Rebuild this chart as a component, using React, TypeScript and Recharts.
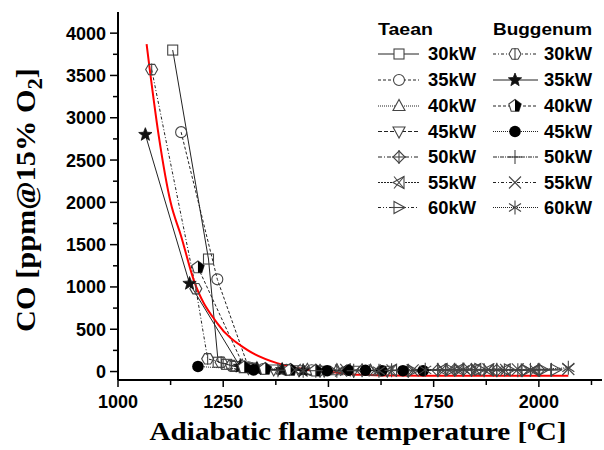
import React from 'react';
import { ComposedChart, Line, XAxis, YAxis } from 'recharts';

type P = { x: number; y: number };
const pts = (a: number[][]): P[] => a.map(([x, y]) => ({ x, y }));

// Taean series (temperature °C, CO ppm)
const taean30 = [[1130, 3800], [1215, 1330], [1238, 110], [1258, 85], [1278, 60], [1300, 45]];
const taean35 = [[1150, 2830], [1236, 1090], [1310, 50], [1345, 30], [1400, 20], [1460, 15]];
const taean40 = [[1295, 70], [1330, 40], [1390, 25], [1450, 20], [1520, 15], [1600, 10]];
const taean45 = [[1310, 40], [1370, 25], [1430, 15], [1490, 10], [1560, 10], [1640, 10]];
const taean50 = [[1480, 10], [1580, 15], [1690, 10], [1760, 15], [1800, 20], [1840, 20], [1900, 15], [1960, 15], [2000, 20]];
const taean55 = [[1540, 20], [1650, 15], [1770, 25], [1810, 25], [1850, 25], [1880, 20], [1920, 20], [1990, 15]];
const taean60 = [[1700, 10], [1790, 20], [1860, 25], [1930, 20], [1970, 15], [2010, 20], [2040, 20]];
// Buggenum series
const bugg30 = [[1080, 3570], [1185, 980], [1213, 150], [1245, 110], [1270, 70], [1320, 40]];
const bugg35 = [[1065, 2800], [1170, 1040], [1290, 60], [1330, 30], [1390, 20], [1440, 10]];
const bugg40 = [[1190, 1230], [1300, 50], [1350, 30], [1410, 20], [1470, 10]];
const bugg45 = [[1190, 60], [1322, 20], [1497, 10], [1547, 15], [1588, 15], [1627, 10], [1677, 10], [1725, 10]];
const bugg50 = [[1380, 15], [1470, 10], [1560, 10], [1650, 15], [1760, 20], [1820, 20], [1870, 15], [1950, 15], [2030, 20]];
const bugg55 = [[1420, 20], [1530, 10], [1610, 15], [1700, 15], [1790, 20], [1835, 25], [1880, 25], [1950, 25], [2070, 30]];
const bugg60 = [[1440, 10], [1520, 10], [1620, 10], [1730, 20], [1820, 25], [1900, 20], [1980, 20], [2070, 45]];
// Red fitted curve
const fitCurve = [[1068, 3870], [1097, 2780], [1125, 2000], [1150, 1600], [1180, 1080], [1236, 570], [1307, 256], [1378, 99], [1440, 30], [1497, 0], [1576, -39], [1650, -48], [1800, -50], [2070, -50]];

const xTicks = [1000, 1125, 1250, 1375, 1500, 1625, 1750, 1875, 2000, 2125];
const yTicks = [0, 250, 500, 750, 1000, 1250, 1500, 1750, 2000, 2250, 2500, 2750, 3000, 3250, 3500, 3750, 4000];
const powerLabels = ['30kW', '35kW', '40kW', '45kW', '50kW', '55kW', '60kW'];
const groupNames = ['Taean', 'Buggenum'];

type Kind = 'square' | 'circle' | 'triUp' | 'triDown' | 'diamondCross' | 'triLeftX' | 'triRight' |
  'hexLine' | 'star' | 'pentHalf' | 'dot' | 'plus' | 'cross' | 'asterisk';

interface Series { key: string; group: number; label: string; data: P[]; kind: Kind; dash: string }

const series: Series[] = [
  { key: 't30', group: 0, label: powerLabels[0], data: pts(taean30), kind: 'square', dash: '' },
  { key: 't35', group: 0, label: powerLabels[1], data: pts(taean35), kind: 'circle', dash: '3 2' },
  { key: 't40', group: 0, label: powerLabels[2], data: pts(taean40), kind: 'triUp', dash: '1 1' },
  { key: 't45', group: 0, label: powerLabels[3], data: pts(taean45), kind: 'triDown', dash: '4 2' },
  { key: 't50', group: 0, label: powerLabels[4], data: pts(taean50), kind: 'diamondCross', dash: '4 2 1 2' },
  { key: 't55', group: 0, label: powerLabels[5], data: pts(taean55), kind: 'triLeftX', dash: '2 1' },
  { key: 't60', group: 0, label: powerLabels[6], data: pts(taean60), kind: 'triRight', dash: '3 2 1 2 1 2' },
  { key: 'b30', group: 1, label: powerLabels[0], data: pts(bugg30), kind: 'hexLine', dash: '3 2 1 2' },
  { key: 'b35', group: 1, label: powerLabels[1], data: pts(bugg35), kind: 'star', dash: '' },
  { key: 'b40', group: 1, label: powerLabels[2], data: pts(bugg40), kind: 'pentHalf', dash: '3 2' },
  { key: 'b45', group: 1, label: powerLabels[3], data: pts(bugg45), kind: 'dot', dash: '1 1' },
  { key: 'b50', group: 1, label: powerLabels[4], data: pts(bugg50), kind: 'plus', dash: '4 1 1 1' },
  { key: 'b55', group: 1, label: powerLabels[5], data: pts(bugg55), kind: 'cross', dash: '3 2 1 2' },
  { key: 'b60', group: 1, label: powerLabels[6], data: pts(bugg60), kind: 'asterisk', dash: '1 1' },
];

const MS = '#444';
const SANS = '"Liberation Sans", Arial, sans-serif';
const SERIF = '"Liberation Serif", "Times New Roman", serif';

const poly = (cx: number, cy: number, r: number, n: number, rot: number) =>
  Array.from({ length: n }, (_, i) => {
    const a = rot + (i * 2 * Math.PI) / n;
    return `${cx + r * Math.cos(a)},${cy + r * Math.sin(a)}`;
  }).join(' ');

function Marker({ kind, cx, cy, fill = 'none' }: { kind: Kind; cx: number; cy: number; fill?: string }) {
  const s = { stroke: MS, strokeWidth: 1.1, fill } as any;
  switch (kind) {
    case 'square':
      return <rect x={cx - 5} y={cy - 5} width={10} height={10} {...s} />;
    case 'circle':
      return <circle cx={cx} cy={cy} r={5.5} {...s} />;
    case 'triUp':
      return <polygon points={`${cx},${cy - 6.5} ${cx - 6},${cy + 4.5} ${cx + 6},${cy + 4.5}`} {...s} />;
    case 'triDown':
      return <polygon points={`${cx},${cy + 6.5} ${cx - 6},${cy - 4.5} ${cx + 6},${cy - 4.5}`} {...s} />;
    case 'diamondCross':
      return (
        <g {...s}>
          <polygon points={`${cx},${cy - 6} ${cx + 6},${cy} ${cx},${cy + 6} ${cx - 6},${cy}`} />
          <line x1={cx - 7} x2={cx + 7} y1={cy} y2={cy} />
          <line x1={cx} x2={cx} y1={cy - 7} y2={cy + 7} />
        </g>
      );
    case 'triLeftX':
      return (
        <g {...s}>
          <polygon points={`${cx - 6},${cy} ${cx + 5},${cy - 6} ${cx + 5},${cy + 6}`} />
          <line x1={cx - 5} x2={cx + 5} y1={cy - 6} y2={cy + 6} />
          <line x1={cx - 5} x2={cx + 5} y1={cy + 6} y2={cy - 6} />
        </g>
      );
    case 'triRight':
      return (
        <g {...s}>
          <polygon points={`${cx + 6},${cy} ${cx - 5},${cy - 6} ${cx - 5},${cy + 6}`} />
          <line x1={cx - 8} x2={cx + 6} y1={cy} y2={cy} />
        </g>
      );
    case 'hexLine':
      return (
        <g {...s}>
          <polygon points={poly(cx, cy, 6, 6, 0)} />
          <line x1={cx} x2={cx} y1={cy - 6} y2={cy + 6} />
        </g>
      );
    case 'star':
      return <polygon points={Array.from({ length: 10 }, (_, i) => {
        const r = i % 2 === 0 ? 7 : 3;
        const a = -Math.PI / 2 + (i * Math.PI) / 5;
        return `${cx + r * Math.cos(a)},${cy + r * Math.sin(a)}`;
      }).join(' ')} fill="#111" stroke="#111" strokeWidth={0.8} />;
    case 'pentHalf':
      return (
        <g>
          <polygon points={poly(cx, cy, 6.5, 5, -Math.PI / 2)} fill="#fff" stroke={MS} strokeWidth={1.1} />
          <polygon points={`${cx},${cy - 6.5} ${cx + 6.2},${cy - 2} ${cx + 3.8},${cy + 5.3} ${cx},${cy + 5.3}`} fill="#000" />
        </g>
      );
    case 'dot':
      return <circle cx={cx} cy={cy} r={5.8} fill="#000" />;
    case 'plus':
      return (
        <g {...s}>
          <line x1={cx - 7} x2={cx + 7} y1={cy} y2={cy} />
          <line x1={cx} x2={cx} y1={cy - 7} y2={cy + 7} />
        </g>
      );
    case 'cross':
      return (
        <g {...s}>
          <line x1={cx - 6} x2={cx + 6} y1={cy - 6} y2={cy + 6} />
          <line x1={cx - 6} x2={cx + 6} y1={cy + 6} y2={cy - 6} />
        </g>
      );
    case 'asterisk':
      return (
        <g {...s}>
          <line x1={cx} x2={cx} y1={cy - 7} y2={cy + 7} />
          <line x1={cx - 6} x2={cx + 6} y1={cy - 4} y2={cy + 4} />
          <line x1={cx - 6} x2={cx + 6} y1={cy + 4} y2={cy - 4} />
        </g>
      );
  }
  return null;
}

const XTick = (props: any) => {
  const { x, y, payload } = props;
  const v = payload.value as number;
  const major = v % 250 === 0;
  return (
    <g>
      <line x1={x} x2={x} y1={y} y2={y + (major ? 7 : 5)} stroke="#000" strokeWidth={1.5} />
      {major && (
        <text x={x} y={y + 28} textAnchor="middle" fontFamily={SANS} fontWeight="bold" fontSize={18} fill="#000">
          {v}
        </text>
      )}
    </g>
  );
};

const YTick = (props: any) => {
  const { x, y, payload } = props;
  const v = payload.value as number;
  const major = v % 500 === 0;
  return (
    <g>
      <line x1={x - (major ? 8 : 5)} x2={x} y1={y} y2={y} stroke="#000" strokeWidth={1.5} />
      {major && (
        <text x={x - 12} y={y} dy="0.36em" textAnchor="end" fontFamily={SANS} fontWeight="bold" fontSize={18} fill="#000">
          {v}
        </text>
      )}
    </g>
  );
};

const rowBaselines = [60, 86, 112, 137.5, 163, 188.5, 213.5];
const colDefs = [
  { lineX1: 378, lineX2: 419, markX: 399, textX: 428 },
  { lineX1: 493, lineX2: 538, markX: 515, textX: 544 },
];

export default function App() {
  return (
    <div style={{ position: 'absolute', left: 0, top: 0, width: 604, height: 450, background: '#fff' }}>
      <ComposedChart width={604} height={450} margin={{ top: 12, right: 2, bottom: 30, left: 0 }}>
        <XAxis
          dataKey="x"
          type="number"
          domain={[1000, 2150]}
          ticks={xTicks}
          interval={0}
          tickSize={0}
          tickMargin={0}
          tickLine={false}
          tick={<XTick />}
          height={40}
          axisLine={{ stroke: '#000', strokeWidth: 2 }}
          allowDataOverflow
        />
        <XAxis xAxisId="top" orientation="top" type="number" domain={[0, 1]} height={0} tick={false} tickLine={false}
          axisLine={{ stroke: '#000', strokeWidth: 2 }} />
        <YAxis
          type="number"
          domain={[-100, 4250]}
          ticks={yTicks}
          interval={0}
          tickSize={0}
          tickMargin={0}
          tickLine={false}
          tick={<YTick />}
          width={118}
          axisLine={{ stroke: '#000', strokeWidth: 2 }}
          allowDataOverflow
        />
        <YAxis yAxisId="right" orientation="right" type="number" domain={[0, 1]} width={0} tick={false} tickLine={false}
          axisLine={{ stroke: '#000', strokeWidth: 2 }} />
        {series.map((s) => (
          <Line
            key={s.key}
            data={s.data}
            dataKey="y"
            type="linear"
            stroke="#222"
            strokeWidth={1}
            strokeDasharray={s.dash || undefined}
            isAnimationActive={false}
            dot={(p: any) => <Marker key={`${s.key}-${p.index}`} kind={s.kind} cx={p.cx} cy={p.cy} />}
            activeDot={false}
          />
        ))}
        <Line
          data={pts(fitCurve)}
          dataKey="y"
          type="monotone"
          stroke="#ff0000"
          strokeWidth={2}
          dot={false}
          activeDot={false}
          isAnimationActive={false}
        />
      </ComposedChart>
      <svg width={604} height={450} style={{ position: 'absolute', left: 0, top: 0, pointerEvents: 'none' }}>
        <text x={35} y={200} transform="rotate(-90 35 200)" textAnchor="middle" fontFamily={SERIF} fontWeight="bold"
          fontSize={28} textLength={264} lengthAdjust="spacingAndGlyphs" fill="#000">
          CO [ppm@15% O<tspan dy={7} fontSize={21}>2</tspan><tspan dy={-7}>]</tspan>
        </text>
        <text x={358} y={440} textAnchor="middle" fontFamily={SERIF} fontWeight="bold" fontSize={26}
          textLength={417} lengthAdjust="spacingAndGlyphs" fill="#000">
          Adiabatic flame temperature [<tspan dy={-10} fontSize={15}>o</tspan><tspan dy={10}>C]</tspan>
        </text>
        {groupNames.map((g, gi) => (
          <text key={g} x={colDefs[gi].lineX1} y={35} fontFamily={SANS} fontWeight="bold" fontSize={17}
            textLength={gi === 0 ? 55 : 99} lengthAdjust="spacingAndGlyphs" fill="#000">{g}</text>
        ))}
        {series.map((s, i) => {
          const c = colDefs[s.group];
          const row = i % 7;
          const by = rowBaselines[row];
          const ly = by - 6;
          return (
            <g key={s.key}>
              <line x1={c.lineX1} x2={c.lineX2} y1={ly} y2={ly} stroke="#222" strokeWidth={1}
                strokeDasharray={s.dash || undefined} />
              <Marker kind={s.kind} cx={c.markX} cy={ly} fill="#fff" />
              <text x={c.textX} y={by} fontFamily={SANS} fontWeight="bold" fontSize={18} textLength={48}
                lengthAdjust="spacingAndGlyphs" fill="#000">{s.label}</text>
            </g>
          );
        })}
      </svg>
    </div>
  );
}
